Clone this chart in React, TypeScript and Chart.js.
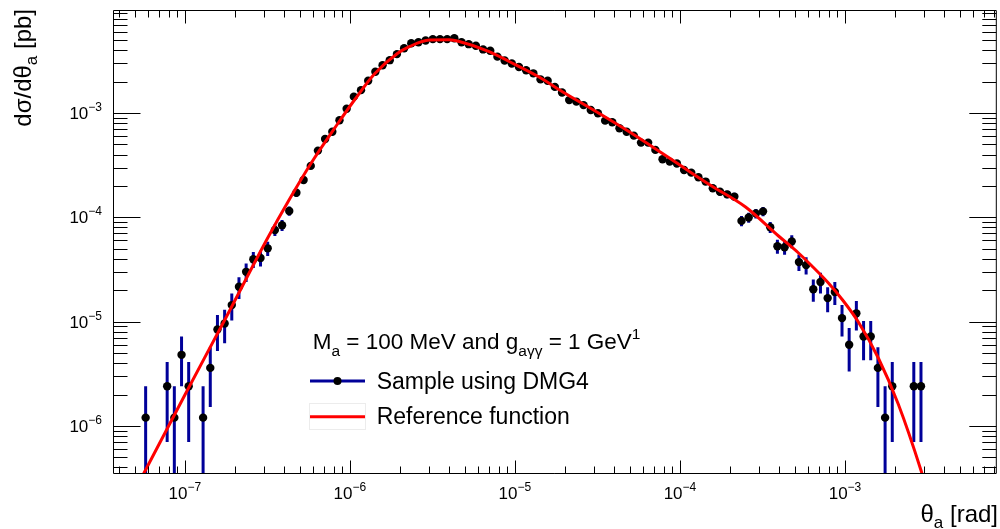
import React, { useEffect, useRef } from 'react';
import { Chart, registerables } from 'chart.js';

Chart.register(...registerables);

const FONT = '"Liberation Sans", Arial, Helvetica, sans-serif';

// ---- Histogram (sample using DMG4): bin centres in theta_a [rad] ----
const thetaBins = [
  5.787e-8, 7.814e-8, 8.636e-8, 9.55e-8, 1.055e-7, 1.29e-7, 1.426e-7, 1.576e-7, 1.742e-7, 1.925e-7,
  2.128e-7, 2.352e-7, 2.6e-7, 2.874e-7, 3.177e-7, 3.512e-7, 3.882e-7, 4.291e-7, 4.742e-7, 5.242e-7,
  5.794e-7, 6.404e-7, 7.079e-7, 7.825e-7, 8.65e-7, 9.561e-7, 1.057e-6, 1.168e-6, 1.291e-6, 1.427e-6,
  1.578e-6, 1.744e-6, 1.928e-6, 2.131e-6, 2.355e-6, 2.603e-6, 2.877e-6, 3.181e-6, 3.516e-6, 3.886e-6,
  4.295e-6, 4.748e-6, 5.248e-6, 5.8e-6, 6.412e-6, 7.087e-6, 7.834e-6, 8.66e-6, 9.572e-6, 1.058e-5,
  1.169e-5, 1.293e-5, 1.429e-5, 1.579e-5, 1.746e-5, 1.93e-5, 2.133e-5, 2.358e-5, 2.606e-5, 2.881e-5,
  3.184e-5, 3.52e-5, 3.89e-5, 4.3e-5, 4.753e-5, 5.254e-5, 5.808e-5, 6.419e-5, 7.096e-5, 7.843e-5,
  8.67e-5, 9.583e-5, 1.059e-4, 1.171e-4, 1.294e-4, 1.431e-4, 1.581e-4, 1.748e-4, 1.932e-4, 2.136e-4,
  2.36e-4, 2.609e-4, 2.884e-4, 3.188e-4, 3.524e-4, 3.895e-4, 4.305e-4, 4.759e-4, 5.26e-4, 5.814e-4,
  6.427e-4, 7.104e-4, 7.852e-4, 8.679e-4, 9.594e-4, 1.06e-3, 1.172e-3, 1.296e-3, 1.432e-3, 1.583e-3,
  1.75e-3, 1.934e-3, 2.612e-3, 2.887e-3,
];

// dsigma/dtheta_a [pb]
const dSigma = [
  1.2e-6, 2.4e-6, 1.2e-6, 4.8e-6, 2.4e-6, 1.2e-6, 3.6e-6, 8.4e-6, 9.6e-6, 1.44e-5,
  2.16e-5, 3.0e-5, 3.96e-5, 4.08e-5, 5.04e-5, 7.56e-5, 8.4e-5, 1.15e-4, 1.72e-4, 2.28e-4,
  3.11e-4, 4.36e-4, 5.64e-4, 6.62e-4, 8.52e-4, 1.1e-3, 1.435e-3, 1.656e-3, 2.04e-3, 2.49e-3,
  2.87e-3, 3.21e-3, 3.67e-3, 4.18e-3, 4.67e-3, 4.77e-3, 4.96e-3, 5.11e-3, 5.11e-3, 5.11e-3,
  5.21e-3, 4.77e-3, 4.57e-3, 4.42e-3, 4.07e-3, 3.95e-3, 3.47e-3, 3.19e-3, 2.98e-3, 2.76e-3,
  2.57e-3, 2.4e-3, 2.1e-3, 2.04e-3, 1.78e-3, 1.57e-3, 1.33e-3, 1.285e-3, 1.19e-3, 1.07e-3,
  9.95e-4, 8.45e-4, 8.15e-4, 7.14e-4, 6.62e-4, 6.07e-4, 5.2e-4, 5.2e-4, 4.43e-4, 3.6e-4,
  3.42e-4, 3.28e-4, 2.84e-4, 2.68e-4, 2.42e-4, 2.2e-4, 1.9e-4, 1.76e-4, 1.66e-4, 1.58e-4,
  9.24e-5, 9.96e-5, 1.09e-4, 1.14e-4, 8.04e-5, 5.28e-5, 5.16e-5, 5.88e-5, 3.72e-5, 3.48e-5,
  2.04e-5, 2.4e-5, 1.68e-5, 1.92e-5, 1.08e-5, 6.0e-6, 1.2e-5, 7.2e-6, 7.2e-6, 3.6e-6,
  1.2e-6, 2.4e-6, 2.4e-6, 2.4e-6,
];

// statistical errors
const dSigmaErr = [
  1.2e-6, 1.7e-6, 1.2e-6, 2.4e-6, 1.7e-6, 1.2e-6, 2.08e-6, 3.17e-6, 3.39e-6, 4.16e-6,
  5.09e-6, 6.0e-6, 6.9e-6, 7.0e-6, 7.8e-6, 9.5e-6, 1.0e-5, 1.18e-5, 1.44e-5, 1.65e-5,
  1.93e-5, 2.29e-5, 2.6e-5, 2.8e-5, 3.2e-5, 3.6e-5, 4.2e-5, 4.5e-5, 4.9e-5, 5.5e-5,
  5.9e-5, 6.2e-5, 6.6e-5, 7.1e-5, 7.5e-5, 7.6e-5, 7.7e-5, 7.8e-5, 7.8e-5, 7.8e-5,
  7.9e-5, 7.6e-5, 7.4e-5, 7.3e-5, 7.0e-5, 6.9e-5, 6.5e-5, 6.2e-5, 6.0e-5, 5.8e-5,
  5.6e-5, 5.4e-5, 5.0e-5, 4.9e-5, 4.6e-5, 4.3e-5, 4.0e-5, 3.9e-5, 3.8e-5, 3.6e-5,
  3.5e-5, 3.2e-5, 3.1e-5, 2.9e-5, 2.8e-5, 2.7e-5, 2.5e-5, 2.5e-5, 2.3e-5, 2.1e-5,
  2.0e-5, 2.0e-5, 1.85e-5, 1.8e-5, 1.7e-5, 1.6e-5, 1.5e-5, 1.45e-5, 1.4e-5, 1.38e-5,
  1.05e-5, 1.09e-5, 1.14e-5, 1.17e-5, 9.8e-6, 8.0e-6, 7.9e-6, 8.4e-6, 6.7e-6, 6.5e-6,
  4.9e-6, 5.4e-6, 4.5e-6, 4.8e-6, 3.6e-6, 2.68e-6, 3.79e-6, 2.94e-6, 2.94e-6, 2.08e-6,
  1.2e-6, 1.7e-6, 1.7e-6, 1.7e-6,
];

// ---- Reference function ----
const refTheta = [
  5.344e-8, 5.675e-8, 1.0e-7, 1.77e-7, 3.176e-7, 4.313e-7, 5.858e-7, 8.414e-7, 1.066e-6, 1.408e-6,
  1.94e-6, 2.293e-6, 3.029e-6, 4.001e-6, 4.598e-6, 6.982e-6, 9.224e-6, 1.4e-5, 1.929e-5, 3.097e-5,
  4.902e-5, 7.762e-5, 1.13e-4, 1.557e-4, 2.498e-4, 3.957e-4, 5.228e-4, 6.262e-4, 7.935e-4, 9.779e-4,
  1.205e-3, 1.592e-3, 2.102e-3, 2.896e-3, 3.105e-3,
];
const refValue = [
  2.99e-7, 3.57e-7, 1.98e-6, 1.083e-5, 6.33e-5, 1.497e-4, 3.352e-4, 7.84e-4, 1.332e-3, 2.365e-3,
  3.719e-3, 4.322e-3, 5.01e-3, 5.03e-3, 4.85e-3, 3.886e-3, 3.117e-3, 2.214e-3, 1.607e-3, 1.034e-3,
  6.646e-4, 4.135e-4, 2.779e-4, 1.995e-4, 1.255e-4, 6.617e-5, 4.546e-5, 3.45e-5, 2.345e-5, 1.576e-5,
  9.91e-6, 4.477e-6, 1.622e-6, 3.694e-7, 2.54e-7,
];

// ---- Axes ----
const X_MIN = 3.67e-8;
const X_MAX = 8.2e-3;
const Y_MIN = 3.535e-7;
const Y_MAX = 9.717e-3;
const xDecadeTicks = [1e-7, 1e-6, 1e-5, 1e-4, 1e-3];
const xDecadeLabels = ['\u22127', '\u22126', '\u22125', '\u22124', '\u22123'];
const yDecadeTicks = [1e-6, 1e-5, 1e-4, 1e-3];
const yDecadeLabels = ['\u22126', '\u22125', '\u22124', '\u22123'];

type Seg = { t: string; size: number; dy: number };

function segsWidth(ctx: CanvasRenderingContext2D, segs: Seg[]) {
  let w = 0;
  for (const s of segs) {
    ctx.font = `${s.size}px ${FONT}`;
    w += ctx.measureText(s.t).width;
  }
  return w;
}

function drawSegs(ctx: CanvasRenderingContext2D, segs: Seg[], x: number, y: number) {
  let cx = x;
  for (const s of segs) {
    ctx.font = `${s.size}px ${FONT}`;
    ctx.fillText(s.t, cx, y + s.dy);
    cx += ctx.measureText(s.t).width;
  }
}

const rootStyle = {
  id: 'rootStyle',
  beforeDatasetsDraw(chart: any) {
    const { ctx, chartArea: a, scales } = chart;
    const xs = scales.x;
    const ys = scales.y;
    ctx.save();
    ctx.beginPath();
    ctx.rect(a.left, a.top, a.right - a.left, a.bottom - a.top);
    ctx.clip();
    ctx.strokeStyle = '#000099';
    ctx.lineWidth = 3;
    for (let i = 0; i < thetaBins.length; i++) {
      const px = xs.getPixelForValue(thetaBins[i]);
      const lo = dSigma[i] - dSigmaErr[i];
      const hi = dSigma[i] + dSigmaErr[i];
      const pyLo = lo > 1e-12 ? ys.getPixelForValue(lo) : a.bottom + 10;
      const pyHi = ys.getPixelForValue(hi);
      ctx.beginPath();
      ctx.moveTo(px, pyLo);
      ctx.lineTo(px, pyHi);
      ctx.stroke();
    }
    ctx.restore();
  },
  afterDraw(chart: any) {
    const { ctx, chartArea: a, scales } = chart;
    const xs = scales.x;
    const ys = scales.y;
    ctx.save();
    ctx.strokeStyle = '#000';
    ctx.lineWidth = 1;
    const L = a.left + 0.5;
    const R = a.right + 0.5;
    const T = a.top + 0.5;
    const B = a.bottom + 0.5;
    ctx.beginPath();
    ctx.rect(L, T, R - L, B - T);
    ctx.stroke();

    const line = (x1: number, y1: number, x2: number, y2: number) => {
      ctx.beginPath();
      ctx.moveTo(x1, y1);
      ctx.lineTo(x2, y2);
      ctx.stroke();
    };

    // x ticks
    const xTick = (v: number, len: number) => {
      const px = Math.round(xs.getPixelForValue(v)) + 0.5;
      line(px, B, px, B - len);
      line(px, T, px, T + len);
    };
    for (let e = -9; e <= -2; e++) {
      for (let m = 1; m <= 9; m++) {
        const v = m * Math.pow(10, e);
        if (v <= X_MIN || v >= X_MAX) continue;
        xTick(v, m === 1 ? 13 : 7);
      }
    }
    // y ticks
    const yTick = (v: number, len: number) => {
      const py = Math.round(ys.getPixelForValue(v)) + 0.5;
      line(L, py, L + len, py);
      line(R, py, R - len, py);
    };
    for (let e = -8; e <= -1; e++) {
      for (let m = 1; m <= 9; m++) {
        const v = m * Math.pow(10, e);
        if (v <= Y_MIN || v >= Y_MAX) continue;
        yTick(v, m === 1 ? 27 : 14);
      }
    }

    ctx.fillStyle = '#000';
    ctx.textBaseline = 'alphabetic';
    ctx.textAlign = 'left';
    // x labels
    xDecadeTicks.forEach((v, i) => {
      const segs: Seg[] = [
        { t: '10', size: 17, dy: 0 },
        { t: xDecadeLabels[i], size: 12, dy: -8 },
      ];
      const w = segsWidth(ctx, segs);
      const px = xs.getPixelForValue(v);
      drawSegs(ctx, segs, px - w / 2, 499);
    });
    // y labels
    yDecadeTicks.forEach((v, i) => {
      const segs: Seg[] = [
        { t: '10', size: 17, dy: 0 },
        { t: yDecadeLabels[i], size: 12, dy: -8 },
      ];
      const w = segsWidth(ctx, segs);
      const py = ys.getPixelForValue(v);
      drawSegs(ctx, segs, 102 - w, py + 6);
    });

    // x title
    const xt: Seg[] = [
      { t: '\u03b8', size: 24, dy: 0 },
      { t: 'a', size: 17, dy: 6 },
      { t: ' [rad]', size: 24, dy: 0 },
    ];
    drawSegs(ctx, xt, 998 - segsWidth(ctx, xt), 522);

    // y title (rotated)
    const yt: Seg[] = [
      { t: 'd\u03c3/d\u03b8', size: 24, dy: 0 },
      { t: 'a', size: 17, dy: 6 },
      { t: ' [pb]', size: 24, dy: 0 },
    ];
    ctx.save();
    ctx.translate(31, 9);
    ctx.rotate(-Math.PI / 2);
    drawSegs(ctx, yt, -segsWidth(ctx, yt), 0);
    ctx.restore();

    // legend
    const hdr: Seg[] = [
      { t: 'M', size: 22.5, dy: 0 },
      { t: 'a', size: 15.5, dy: 7 },
      { t: ' = 100 MeV and g', size: 22.5, dy: 0 },
      { t: 'a\u03b3\u03b3', size: 15.5, dy: 7 },
      { t: ' = 1 GeV', size: 22.5, dy: 0 },
      { t: '1', size: 15.5, dy: -10 },
    ];
    drawSegs(ctx, hdr, 312.7, 348.5);

    ctx.strokeStyle = '#000099';
    ctx.lineWidth = 3;
    line(310, 381, 365, 381);
    ctx.fillStyle = '#000';
    ctx.beginPath();
    ctx.arc(337.5, 381, 4, 0, Math.PI * 2);
    ctx.fill();
    drawSegs(ctx, [{ t: 'Sample using DMG4', size: 23, dy: 0 }], 376.7, 388.5);

    ctx.strokeStyle = '#ececec';
    ctx.lineWidth = 1;
    ctx.strokeRect(309.5, 403.5, 56, 26);
    ctx.strokeStyle = '#ff0000';
    ctx.lineWidth = 3;
    line(310, 416.7, 365, 416.7);
    ctx.fillStyle = '#000';
    drawSegs(ctx, [{ t: 'Reference function', size: 23, dy: 0 }], 376.7, 424.3);
    ctx.restore();
  },
};

export default function App() {
  const ref = useRef<HTMLCanvasElement | null>(null);
  useEffect(() => {
    if (!ref.current) return;
    const chart = new Chart(ref.current, {
      type: 'scatter',
      data: {
        datasets: [
          {
            label: 'Reference function',
            data: refTheta.map((x, i) => ({ x, y: refValue[i] })),
            showLine: true,
            borderColor: '#ff0000',
            borderWidth: 3,
            pointRadius: 0,
            cubicInterpolationMode: 'monotone',
            order: 0,
            clip: 0,
          } as any,
          {
            label: 'Sample using DMG4',
            data: thetaBins.map((x, i) => ({ x, y: dSigma[i] })),
            showLine: false,
            pointRadius: 4.2,
            pointBackgroundColor: '#000',
            pointBorderWidth: 0,
            pointBorderColor: '#000',
            order: 1,
            clip: 0,
          } as any,
        ],
      },
      options: {
        animation: false,
        responsive: false,
        devicePixelRatio: 1,
        events: [],
        layout: { padding: { left: 113, right: 2, top: 10, bottom: 56 } },
        plugins: { legend: { display: false }, tooltip: { enabled: false } },
        scales: {
          x: { type: 'logarithmic', min: X_MIN, max: X_MAX, display: false, bounds: 'data' } as any,
          y: { type: 'logarithmic', min: Y_MIN, max: Y_MAX, display: false, bounds: 'data' } as any,
        },
      },
      plugins: [rootStyle],
    });
    return () => chart.destroy();
  }, []);
  return (
    <div style={{ position: 'absolute', left: 0, top: 0, width: 1000, height: 529, background: '#fff' }}>
      <canvas ref={ref} width={1000} height={529} style={{ width: 1000, height: 529, display: 'block' }} />
    </div>
  );
}
